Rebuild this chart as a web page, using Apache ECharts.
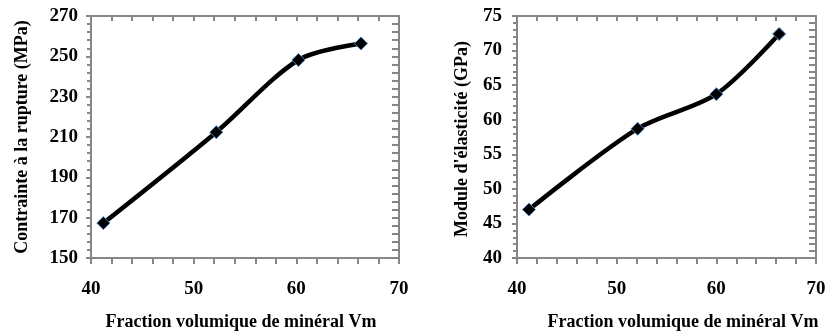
<!DOCTYPE html>
<html>
<head>
<meta charset="utf-8">
<script src="https://cdn.jsdelivr.net/npm/echarts@6/dist/echarts.min.js"></script>
<style>html,body{margin:0;padding:0;background:#fff}#c{width:829px;height:333px}</style>
</head>
<body>
<div id="c"></div>
<script>
// ---- data ----
var vmLeft = [41.2, 52.2, 60.2, 66.3];
var contrainte = [167.3, 212.4, 248.2, 256.4];
var vmRight = [41.2, 52.1, 60.0, 66.3];
var moduleE = [47.0, 58.7, 63.7, 72.4];
var xTitle = 'Fraction volumique de minéral Vm';
var yTitleLeft = 'Contrainte à la rupture (MPa)';
var yTitleRight = "Module d'élasticité (GPa)";

var FONT = '"Liberation Serif","Times New Roman",serif';
var AX = '#868686';

function pairs(xs, ys){ return xs.map(function(x,i){return [x, ys[i]];}); }

function xAxes(gi){
  var base = {gridIndex: gi, type:'value', min:40, max:70, interval:10,
    axisLine:{show:true, lineStyle:{color:AX, width:2}},
    splitLine:{show:false}};
  return [
    Object.assign({}, base, {
      axisTick:{show:true, length:6, lineStyle:{color:AX, width:2}},
      minorTick:{show:true, splitNumber:5, length:6, lineStyle:{color:AX, width:2}},
      axisLabel:{show:true, margin:22, color:'#000', fontFamily:FONT, fontWeight:'bold', fontSize:19}
    }),
    Object.assign({}, base, {
      axisTick:{show:true, inside:true, length:5, lineStyle:{color:AX, width:2}},
      minorTick:{show:true, splitNumber:5, length:5, lineStyle:{color:AX, width:2}},
      axisLabel:{show:false}
    }),
  ];
}
function yAxes(gi, min, max, interval, margin){
  var base = {gridIndex: gi, type:'value', min:min, max:max, interval:interval,
    axisLine:{show:true, lineStyle:{color:AX, width:2}},
    splitLine:{show:false}};
  return [
    Object.assign({}, base, {
      axisTick:{show:true, length:5, lineStyle:{color:AX, width:2}},
      minorTick:{show:true, splitNumber:5, length:4, lineStyle:{color:AX, width:2}},
      axisLabel:{show:true, margin:margin, color:'#000', fontFamily:FONT, fontWeight:'bold', fontSize:19}
    }),
    Object.assign({}, base, {
      axisTick:{show:true, inside:true, length:7, lineStyle:{color:AX, width:2}},
      minorTick:{show:true, splitNumber:5, length:7, lineStyle:{color:AX, width:2}},
      axisLabel:{show:false}
    })
  ];
}

var xs = xAxes(0).concat(xAxes(1));
var ys = yAxes(0,150,270,20,13).concat(yAxes(1,40,75,5,15));

function series(xi, yi, data){
  return {type:'line', xAxisIndex:xi, yAxisIndex:yi, data:data, smooth:0.3,
    symbol:'diamond', symbolSize:13,
    lineStyle:{color:'#000', width:4.5},
    itemStyle:{color:'#000', borderColor:'#4a7ebb', borderWidth:1},
    z:5};
}

function txt(x, y, s, rot){
  return {type:'text', x:x, y:y, rotation:rot||0,
    style:{text:s, fill:'#000', fontFamily:FONT, fontWeight:'bold', fontSize:18, align:'center', verticalAlign:'middle'}};
}

var chart = echarts.init(document.getElementById('c'), null, {renderer:'canvas'});
chart.setOption({
  animation:false,
  backgroundColor:'#fff',
  grid:[
    {left:91, top:16, width:308, height:242},
    {left:517, top:16, width:299, height:242}
  ],
  xAxis: xs,
  yAxis: ys,
  series:[
    series(0, 0, pairs(vmLeft, contrainte)),
    series(2, 2, pairs(vmRight, moduleE))
  ],
  graphic:[
    txt(241, 322, xTitle),
    txt(683, 322, xTitle),
    txt(22, 137, yTitleLeft, Math.PI/2),
    txt(462, 139, yTitleRight, Math.PI/2)
  ]
});
</script>
</body>
</html>
